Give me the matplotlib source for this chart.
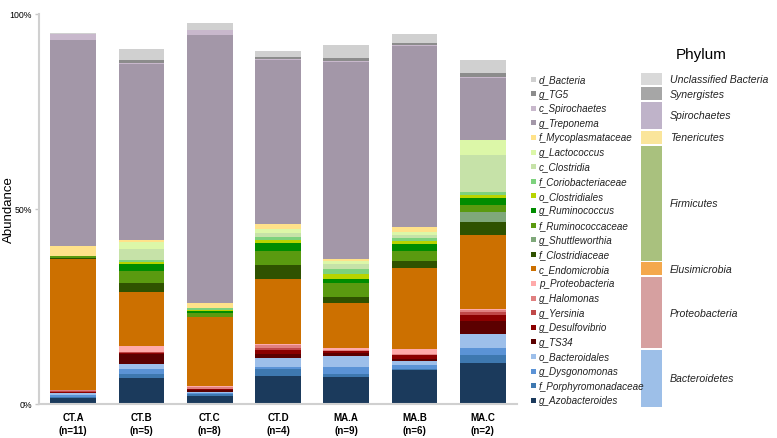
import numpy as np
import matplotlib.pyplot as plt
from matplotlib.patches import Rectangle

plt.rcParams['font.family'] = ['Liberation Sans', 'DejaVu Sans']

groups = ["CT.A\n(n=11)", "CT.B\n(n=5)", "CT.C\n(n=8)", "CT.D\n(n=4)", "MA.A\n(n=9)", "MA.B\n(n=6)", "MA.C\n(n=2)"]

# taxa, bottom to top of the stack (legend shows them reversed)
taxa = ["g_Azobacteroides", "f_Porphyromonadaceae", "g_Dysgonomonas", "o_Bacteroidales",
        "g_TS34", "g_Desulfovibrio", "g_Yersinia", "g_Halomonas", "p_Proteobacteria",
        "c_Endomicrobia", "f_Clostridiaceae", "g_Shuttleworthia", "f_Ruminococcaceae",
        "g_Ruminococcus", "o_Clostridiales", "f_Coriobacteriaceae", "c_Clostridia",
        "g_Lactococcus", "f_Mycoplasmataceae", "g_Treponema", "c_Spirochaetes", "g_TG5", "d_Bacteria"]

colors = ["#1b3a5c", "#3e78b0", "#5b93d6", "#9dbfea",
          "#5c0000", "#8b0000", "#c04848", "#e08080", "#ffaaaa",
          "#cc7000", "#2f5200", "#7fa87a", "#5a9a10",
          "#008c00", "#b8d400", "#7dd27d", "#c6e2a8",
          "#dcf7a8", "#ffe28a", "#a397a8", "#c8b8cc", "#8c8c8c", "#d0d0d0"]

g_Azobacteroides = [1.6, 6.6, 2.1, 7.3, 6.9, 8.6, 10.5]
f_Porphyromonadaceae = [0.3, 1.1, 0.4, 1.6, 0.9, 0.4, 2.1]
g_Dysgonomonas = [0.3, 1.2, 0.3, 0.7, 1.6, 0.9, 1.7]
o_Bacteroidales = [0.5, 1.4, 0.4, 2.3, 3.0, 1.1, 3.6]
g_TS34 = [0.2, 2.6, 0.3, 0.8, 0.6, 0.6, 3.3]
g_Desulfovibrio = [0.2, 0.3, 0.3, 1.2, 0.6, 0.9, 1.5]
g_Yersinia = [0.2, 0.1, 0.1, 0.4, 0.1, 0.1, 0.9]
g_Halomonas = [0.3, 0.1, 0.4, 0.9, 0.1, 0.1, 0.5]
p_Proteobacteria = [0.1, 1.4, 0.2, 0.3, 0.5, 1.3, 0.3]
c_Endomicrobia = [33.6, 14.0, 17.8, 16.6, 11.6, 20.9, 18.9]
f_Clostridiaceae = [0.2, 2.3, 0.0, 3.5, 1.5, 1.8, 3.3]
g_Shuttleworthia = [0.0, 0.0, 0.0, 0.0, 0.0, 0.0, 2.6]
f_Ruminococcaceae = [0.4, 3.1, 1.0, 3.6, 3.7, 2.5, 1.8]
g_Ruminococcus = [0.0, 1.6, 0.6, 2.0, 1.0, 1.7, 1.8]
o_Clostridiales = [0.0, 0.6, 0.3, 0.8, 1.3, 0.9, 0.8]
f_Coriobacteriaceae = [0.0, 0.6, 0.3, 0.8, 1.3, 0.7, 0.8]
c_Clostridia = [0.0, 2.8, 0.0, 1.1, 1.3, 0.9, 9.5]
g_Lactococcus = [0.0, 1.7, 0.0, 0.85, 0.7, 0.7, 3.9]
f_Mycoplasmataceae = [2.6, 0.6, 1.5, 1.3, 0.4, 1.4, 0.0]
g_Treponema = [52.8, 45.0, 68.5, 42.1, 50.6, 46.3, 15.7]
c_Spirochaetes = [1.6, 0.4, 1.3, 0.2, 0.3, 0.2, 0.3]
g_TG5 = [0.0, 0.7, 0.0, 0.5, 0.8, 0.6, 1.0]
d_Bacteria = [0.2, 2.7, 1.9, 1.6, 3.3, 2.2, 3.3]

values = [g_Azobacteroides, f_Porphyromonadaceae, g_Dysgonomonas, o_Bacteroidales,
          g_TS34, g_Desulfovibrio, g_Yersinia, g_Halomonas, p_Proteobacteria,
          c_Endomicrobia, f_Clostridiaceae, g_Shuttleworthia, f_Ruminococcaceae,
          g_Ruminococcus, o_Clostridiales, f_Coriobacteriaceae, c_Clostridia,
          g_Lactococcus, f_Mycoplasmataceae, g_Treponema, c_Spirochaetes, g_TG5, d_Bacteria]

# phylum blocks: name, colour, first and last legend row (rows counted from the top)
phyla = ["Unclassified Bacteria", "Synergistes", "Spirochaetes", "Tenericutes",
         "Firmicutes", "Elusimicrobia", "Proteobacteria", "Bacteroidetes"]
phylum_colors = ["#d9d9d9", "#a6a6a6", "#bfb3c9", "#fae59b",
                 "#a9c17e", "#f4a84c", "#d6a0a0", "#9dbfe8"]
phylum_rows = [(0, 0), (1, 1), (2, 3), (4, 4), (5, 12), (13, 13), (14, 18), (19, 22)]


fig = plt.figure(figsize=(7.77, 4.39), dpi=100)
ax = fig.add_axes([39 / 777, 34 / 439, 478 / 777, 390 / 439])

x = np.arange(len(groups))
bottom = np.zeros(len(groups))
for i in range(len(taxa)):
    ax.bar(x, values[i], 0.67, bottom=bottom, color=colors[i], linewidth=0)
    bottom += np.array(values[i])

ax.set_xlim(-0.5, len(groups) - 0.5)
ax.set_ylim(0, 100)
ax.set_yticks([0, 50, 100])
ax.set_yticklabels(["0%", "50%", "100%"], fontsize=6.3)
ax.set_xticks(x)
ax.set_xticklabels(groups, fontsize=7, fontweight="bold", linespacing=1.3)
ax.tick_params(axis="x", length=0, pad=6)
ax.tick_params(axis="y", length=3, width=1, color="#c8c8c8", pad=2)
for s in ["top", "right"]:
    ax.spines[s].set_visible(False)
for s in ["left", "bottom"]:
    ax.spines[s].set_color("#d0d0d0")
    ax.spines[s].set_linewidth(1.5)
ax.set_ylabel("Abundance", fontsize=9.5)
ax.yaxis.set_label_coords(-0.05, 0.5)

# legend panel drawn in pixel coordinates
lg = fig.add_axes([0, 0, 1, 1])
lg.set_xlim(0, 777)
lg.set_ylim(439, 0)
lg.axis("off")

row0 = 80
step = 14.6
names_top = taxa[::-1]
cols_top = colors[::-1]
for i in range(len(names_top)):
    y = row0 + i * step
    lg.add_patch(Rectangle((530.5, y - 2.5), 5, 5, color=cols_top[i], linewidth=0))
    lg.text(539, y, names_top[i], fontsize=7.1, style="italic", va="center", ha="left", color="#222222")

lg.text(701, 55, "Phylum", fontsize=11, ha="center", va="center")
for i in range(len(phyla)):
    y1 = row0 + phylum_rows[i][0] * step - 6.3
    y2 = row0 + phylum_rows[i][1] * step + 6.3
    lg.add_patch(Rectangle((641, y1), 21, y2 - y1, color=phylum_colors[i], linewidth=0))
    lg.text(670, (y1 + y2) / 2, phyla[i], fontsize=7.6, style="italic", va="center", ha="left", color="#222222")

fig.savefig("out.png", dpi=100)
